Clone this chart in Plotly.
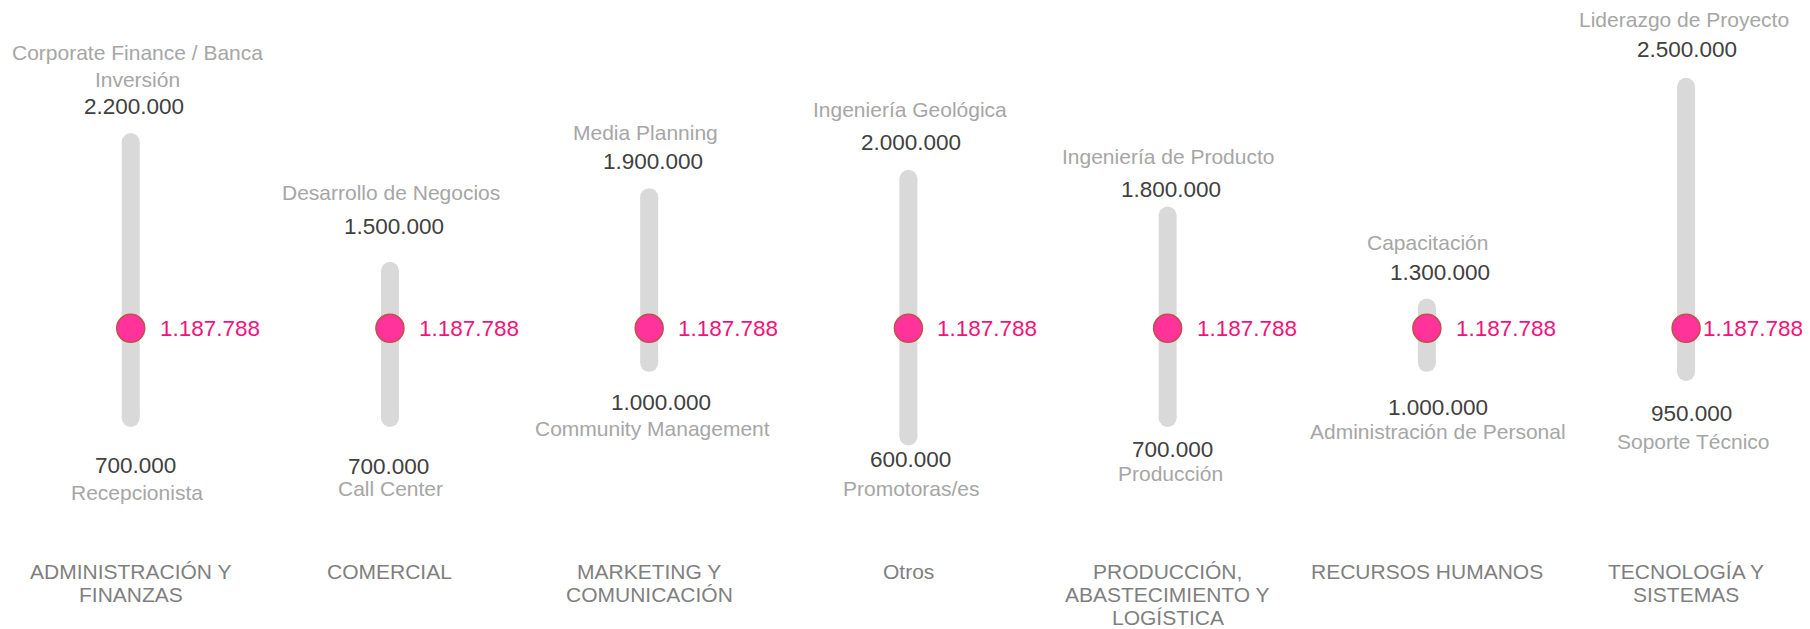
import plotly.graph_objects as go

# Datos
areas = ["ADMINISTRACIÓN Y<br>FINANZAS", "COMERCIAL", "MARKETING Y<br>COMUNICACIÓN", "Otros",
         "PRODUCCIÓN,<br>ABASTECIMIENTO Y<br>LOGÍSTICA", "RECURSOS HUMANOS", "TECNOLOGÍA Y<br>SISTEMAS"]
sueldo_max = [2200000, 1500000, 1900000, 2000000, 1800000, 1300000, 2500000]
sueldo_min = [700000, 700000, 1000000, 600000, 700000, 1000000, 950000]
puesto_max = ["Corporate Finance / Banca<br>Inversión", "Desarrollo de Negocios", "Media Planning",
              "Ingeniería Geológica", "Ingeniería de Producto", "Capacitación", "Liderazgo de Proyecto"]
puesto_min = ["Recepcionista", "Call Center", "Community Management", "Promotoras/es",
              "Producción", "Administración de Personal", "Soporte Técnico"]
sueldo_usuario = 1187788

# desplazamientos de etiquetas (px), solo estilo
off_val_top = [36, 44, 36, 36, 26, 35, 37]
gap_sub_top = [27, 34, 29, 33, 33, 30, 30]
off_val_bot = [47, 48, 40, 23, 31, 45, 41]
gap_sub_bot = [27, 22, 26, 29, 24, 24, 28]
dx_val_top = [3, 4, 4, 3, 3, 13, 1]
dx_val_bot = [5, -1, 12, 2, 5, 11, 5]
dx_sub_top = [7, 1, -4, 2, 0, 1, -2]
dx_sub_bot = [6, 1, 3, 3, 3, 11, 7]
shift_usuario = [27, 27, 27, 27, 27, 27, 15]

GRIS_BARRA = "#d9d9d9"
FONT = "Liberation Sans, Arial, sans-serif"


def fmt(v):
    return f"{v:,}".replace(",", ".")


fig = go.Figure()
xs = list(range(len(areas)))

# barras de rango (línea + extremos redondeados)
for i in xs:
    fig.add_trace(go.Scatter(
        x=[i, i], y=[sueldo_min[i], sueldo_max[i]], mode="lines+markers",
        line=dict(color=GRIS_BARRA, width=18),
        marker=dict(color=GRIS_BARRA, size=18, line=dict(width=0)),
        hoverinfo="skip", showlegend=False,
    ))

fig.add_trace(go.Scatter(
    x=xs, y=[sueldo_usuario] * len(xs), mode="markers",
    marker=dict(color="#ff3399", size=28, line=dict(color="#c0504d", width=1.5)),
    showlegend=False,
))

for i in xs:
    fig.add_annotation(x=i, y=sueldo_usuario, text=fmt(sueldo_usuario), showarrow=False,
                       xanchor="left", yanchor="middle", xshift=shift_usuario[i],
                       font=dict(family=FONT, size=22.5, color="#f0147a"))
    # máximo
    fig.add_annotation(x=i, y=sueldo_max[i], text=fmt(sueldo_max[i]), showarrow=False,
                       yanchor="middle", yshift=off_val_top[i], xshift=dx_val_top[i],
                       font=dict(family=FONT, size=22.5, color="#404040"))
    nl = puesto_max[i].count("<br>")
    fig.add_annotation(x=i, y=sueldo_max[i], text=puesto_max[i], showarrow=False,
                       yanchor="middle", yshift=off_val_top[i] + gap_sub_top[i] + nl * 13,
                       xshift=dx_sub_top[i],
                       font=dict(family=FONT, size=21, color="#a6a6a6"))
    # mínimo
    fig.add_annotation(x=i, y=sueldo_min[i], text=fmt(sueldo_min[i]), showarrow=False,
                       yanchor="middle", yshift=-off_val_bot[i], xshift=dx_val_bot[i],
                       font=dict(family=FONT, size=22.5, color="#404040"))
    fig.add_annotation(x=i, y=sueldo_min[i], text=puesto_min[i], showarrow=False,
                       yanchor="middle", yshift=-(off_val_bot[i] + gap_sub_bot[i]),
                       xshift=dx_sub_bot[i],
                       font=dict(family=FONT, size=21, color="#a6a6a6"))
    # nombre del área, una línea por anotación (interlineado ajustado)
    for k, linea in enumerate(areas[i].split("<br>")):
        fig.add_annotation(x=i, y=0, yref="paper", text=linea, showarrow=False,
                           yanchor="middle", yshift=58 - k * 23.3,
                           font=dict(family=FONT, size=21, color="#7f7f7f"))

fig.update_layout(
    width=1802, height=621,
    margin=dict(l=0, r=0, t=0, b=0),
    paper_bgcolor="white", plot_bgcolor="white",
    xaxis=dict(range=[-0.4734, 6.478], tickvals=xs, showticklabels=False, showgrid=False,
               zeroline=False, showline=False, ticks=""),
    yaxis=dict(range=[-446739, 2928261], visible=False),
)

fig.write_html("out.html")
